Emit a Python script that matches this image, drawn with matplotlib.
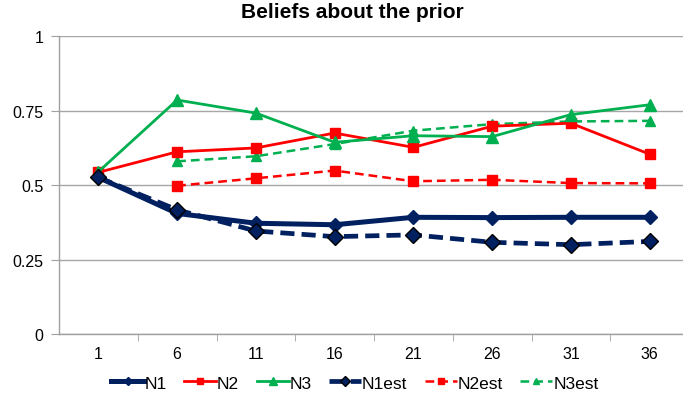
import matplotlib
matplotlib.use("Agg")
import matplotlib.pyplot as plt

plt.rcParams['font.family'] = ['Liberation Sans', 'DejaVu Sans']

categories = ["1", "6", "11", "16", "21", "26", "31", "36"]
N1 = [0.526, 0.405, 0.372, 0.367, 0.392, 0.391, 0.392, 0.392]
N2 = [0.543, 0.612, 0.625, 0.675, 0.627, 0.698, 0.708, 0.604]
N3 = [0.545, 0.786, 0.742, 0.644, 0.666, 0.663, 0.737, 0.770]
N1est = [0.526, 0.417, 0.346, 0.327, 0.333, 0.308, 0.300, 0.311]
N2est = [None, 0.498, 0.523, 0.549, 0.513, 0.518, 0.507, 0.506]
N3est = [None, 0.580, 0.597, 0.638, 0.683, 0.705, 0.714, 0.716]
yticks = [0, 0.25, 0.5, 0.75, 1]
ylabels = ["0", "0.25", "0.5", "0.75", "1"]

navy = "#002060"
red = "#FF0000"
green = "#00B050"

fig = plt.figure(figsize=(6.83, 4.02), dpi=100)
ax = fig.add_axes([59/683, 67/402, 630/683, 297.7/402])

x = list(range(len(categories)))

def xy(vals):
    xs = [i for i, v in zip(x, vals) if v is not None]
    ys = [v for v in vals if v is not None]
    return xs, ys

ax.plot(*xy(N1), color=navy, lw=3.6, marker="D", ms=7, mfc=navy, mec=navy, label="N1", zorder=5)
ax.plot(*xy(N2), color=red, lw=2.0, marker="s", ms=7, mfc=red, mec=red, label="N2", zorder=4)
ax.plot(*xy(N3), color=green, lw=2.0, marker="^", ms=8, mfc=green, mec=green, label="N3", zorder=4)
ax.plot(*xy(N1est), color=navy, lw=3.4, ls=(0, (3, 1.5)), marker="D", ms=8.5, mfc=navy, mec="black", mew=1.0, label="N1est", zorder=5)
ax.plot(*xy(N2est), color=red, lw=1.8, ls=(0, (3.5, 2)), marker="s", ms=6.5, mfc=red, mec=red, label="N2est", zorder=3)
ax.plot(*xy(N3est), color=green, lw=1.8, ls=(0, (3.5, 2)), marker="^", ms=7, mfc=green, mec=green, label="N3est", zorder=3)

ax.set_xlim(-0.5, len(categories) - 0.5)
ax.set_ylim(0, 1)
ax.set_yticks(yticks)
ax.set_yticklabels(ylabels, fontsize=11.5)
ax.set_xticks(x)
ax.set_xticklabels(categories, fontsize=11.5)
ax.tick_params(axis='x', length=0, pad=9)
ax.set_xticks([i + 0.5 for i in x[:-1]], minor=True)
ax.tick_params(axis='x', which='minor', length=5, color="#A0A0A0", direction='out')
ax.tick_params(axis='y', length=6, color="#A0A0A0", direction='out', pad=5)

ax.grid(axis='y', color="#A6A6A6", lw=1.0)
ax.set_axisbelow(True)
for s in ["top", "right"]:
    ax.spines[s].set_visible(False)
ax.spines["left"].set_color("#A0A0A0")
ax.spines["bottom"].set_color("#A0A0A0")
ax.spines["left"].set_linewidth(1.0)
ax.spines["bottom"].set_linewidth(1.0)

fig.text(352/683, 1 - 13/402, "Beliefs about the prior", ha="center", va="center",
         fontsize=15, fontweight="bold")

leg = fig.legend(loc="center", bbox_to_anchor=(355/683, 1 - 384/402), ncol=6, frameon=False,
                 fontsize=12.5, handlelength=1.85, handletextpad=0.05, columnspacing=1.0,
                 markerscale=0.65)

fig.savefig("out.png", dpi=100)
